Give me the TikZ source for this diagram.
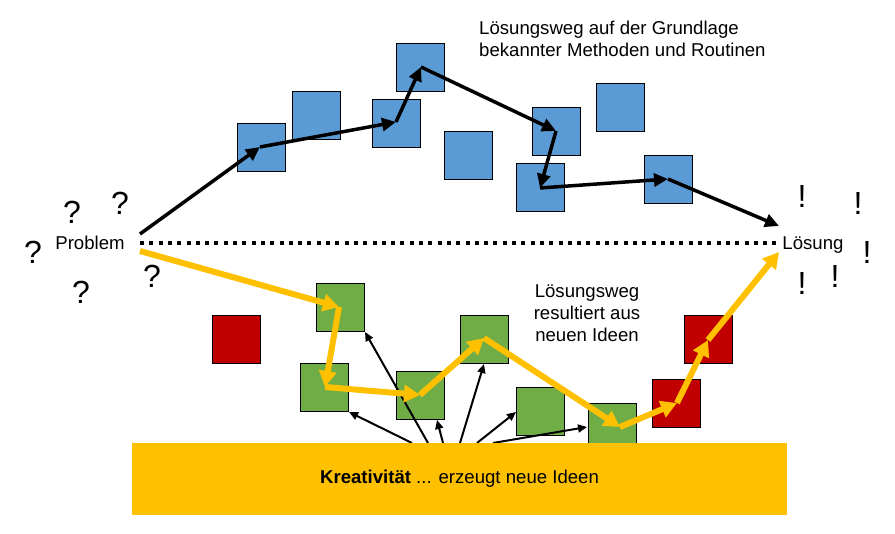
\documentclass[tikz,border=0pt]{standalone}
\usepackage{fontspec}
\setmainfont{Liberation Sans}
\usetikzlibrary{arrows.meta}
\definecolor{sqblue}{HTML}{5B9BD5}
\definecolor{sqgreen}{HTML}{70AD47}
\definecolor{sqred}{HTML}{C00000}
\definecolor{gold}{HTML}{FFC000}
\begin{document}
\begin{tikzpicture}[x=1pt,y=-1pt,
  sq/.style={draw=black, line width=1pt, minimum size=48pt, inner sep=0pt, anchor=north west},
  bsq/.style={sq, fill=sqblue},
  gsq/.style={sq, fill=sqgreen},
  rsq/.style={sq, fill=sqred},
  blk/.style={line width=3.5pt, -{Triangle[length=14pt,width=13pt]}},
  yel/.style={draw=gold, line width=6pt, -{Triangle[length=16pt,width=17pt]}},
  thinarr/.style={line width=2pt, -{Triangle[length=9pt,width=8pt]}},
  lbl/.style={font=\fontsize{18.6}{22}\selectfont, inner sep=0pt},
  qmk/.style={font=\fontsize{32}{32}\selectfont, inner sep=0pt}
]
\useasboundingbox (0,0) rectangle (895,534);

% blue squares
\node[bsq] (b1) at (237,123) {};
\node[bsq] (b2) at (292,91) {};
\node[bsq] (b3) at (372,99) {};
\node[bsq] (b4) at (396,43) {};
\node[bsq] (b5) at (444,131) {};
\node[bsq] (b6) at (532,107) {};
\node[bsq] (b7) at (596,83) {};
\node[bsq] (b8) at (516,163) {};
\node[bsq] (b9) at (644,155) {};

% black path
\coordinate (p0) at (140,234);
\coordinate (p1) at (260,147);
\coordinate (p2) at (396,122);
\coordinate (p3) at (421,67);
\coordinate (p4) at (556,131);
\coordinate (p5) at (540,188);
\coordinate (p6) at (668,179);
\coordinate (p7) at (779,226);
\draw[blk] (p0) -- (p1);
\draw[blk] (p1) -- (p2);
\draw[blk] (p2) -- (p3);
\draw[blk] (p3) -- (p4);
\draw[blk] (p4) -- (p5);
\draw[blk] (p5) -- (p6);
\draw[blk] (p6) -- (p7);

% dotted line
\coordinate (d0) at (140,243);
\coordinate (d1) at (778,243);
\draw[line width=3.5pt, dash pattern=on 4pt off 5.3pt] (d0) -- (d1);

% green and red squares
\node[rsq] (r1) at (212,315) {};
\node[gsq] (g1) at (316,283) {};
\node[gsq] (g2) at (300,363) {};
\node[gsq] (g3) at (396,371) {};
\node[gsq] (g4) at (460,315) {};
\node[gsq] (g5) at (516,387) {};
\node[gsq] (g6) at (588,403) {};
\node[rsq] (r2) at (652,379) {};
\node[rsq] (r3) at (684,315) {};

% thin arrows from the bar
\coordinate (t1) at (412,443);
\coordinate (t2) at (428,443);
\coordinate (t3) at (443,443);
\coordinate (t4) at (460,443);
\coordinate (t5) at (477,443);
\coordinate (t6) at (493,443);
\coordinate (e1) at (349,412);
\coordinate (e2) at (365,332);
\coordinate (e3) at (437,420);
\coordinate (e4) at (484,364);
\coordinate (e5) at (516,412);
\coordinate (e6) at (587,427);
\draw[thinarr] (t1) -- (e1);
\draw[thinarr] (t2) -- (e2);
\draw[thinarr] (t3) -- (e3);
\draw[thinarr] (t4) -- (e4);
\draw[thinarr] (t5) -- (e5);
\draw[thinarr] (t6) -- (e6);

% yellow path
\coordinate (y0) at (140,251);
\coordinate (y1) at (339,307);
\coordinate (y2) at (325,387);
\coordinate (y3) at (420,395);
\coordinate (y4) at (484,338);
\coordinate (y5) at (620,427);
\coordinate (y6) at (677,403);
\coordinate (y7) at (708,340);
\coordinate (y8) at (779,252);
\draw[yel] (y0) -- (y1);
\draw[yel] (y1) -- (y2);
\draw[yel] (y2) -- (y3);
\draw[yel] (y3) -- (y4);
\draw[yel] (y4) -- (y5);
\draw[yel] (y5) -- (y6);
\draw[yel] (y6) -- (y7);
\draw[yel] (y7) -- (y8);

% bar
\node[fill=gold, minimum width=655pt, minimum height=72pt, inner sep=0pt, lbl] (bar) at (459.5,479)
  {\textbf{Kreativität} ... erzeugt neue Ideen};

% labels
\node[lbl, anchor=base] (problem) at (90,250) {Problem};
\node[lbl, anchor=base] (loesung) at (813,250) {Lösung};
\node[lbl, anchor=north west, align=left] (toptext) at (479,21)
  {Lösungsweg auf der Grundlage\\bekannter Methoden und Routinen};
\node[lbl, anchor=north, align=center] (midtext) at (587,284.5)
  {Lösungsweg\\resultiert aus\\neuen Ideen};

% question marks
\node[qmk] (q1) at (72,212) {?};
\node[qmk] (q2) at (120,203) {?};
\node[qmk] (q3) at (33,252) {?};
\node[qmk] (q4) at (81,292) {?};
\node[qmk] (q5) at (152,276) {?};

% exclamation marks
\node[qmk] (x1) at (802,196) {!};
\node[qmk] (x2) at (858,203) {!};
\node[qmk] (x3) at (867,252) {!};
\node[qmk] (x4) at (835,276) {!};
\node[qmk] (x5) at (802,283) {!};
\end{tikzpicture}
\end{document}
